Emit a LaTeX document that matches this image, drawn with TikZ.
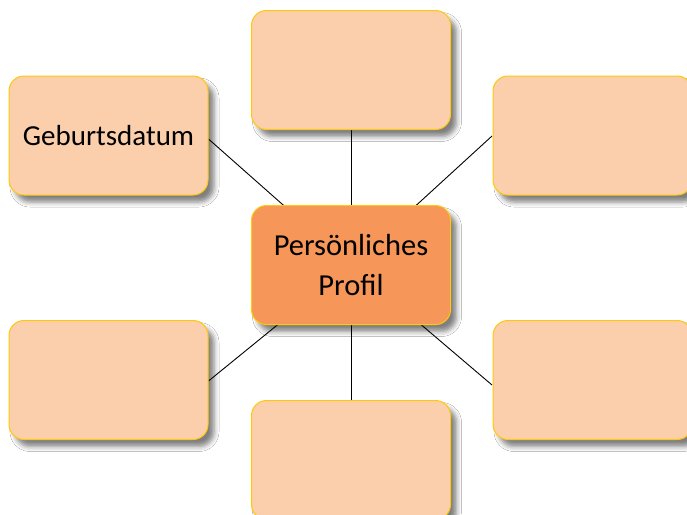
\documentclass[tikz,border=0pt]{standalone}
\usepackage{fontspec}
\setmainfont{Carlito}
\usetikzlibrary{shadows.blur}
\definecolor{boxfill}{HTML}{FBCEAC}
\definecolor{ctrfill}{HTML}{F69659}
\definecolor{boxline}{HTML}{FFC80A}
\tikzset{
  card/.style={draw=boxline, line width=1pt, fill=boxfill, rounded corners=15pt,
    minimum width=199pt, minimum height=119pt, inner sep=0pt, align=center,
    font=\fontsize{29}{40}\selectfont, text=black,
    blur shadow={shadow xshift=6pt, shadow yshift=-7pt, shadow blur radius=5pt, shadow opacity=50}},
  centercard/.style={card, fill=ctrfill, font=\fontsize{30.5}{40}\selectfont},
  link/.style={draw=black, line width=0.9pt}
}
\begin{document}
\begin{tikzpicture}[x=1pt,y=-1pt]
\useasboundingbox (0,0) rectangle (687,514);
\clip (0,0) rectangle (687,514);
\fill[white] (0,0) rectangle (687,514);
\coordinate (c) at (351,265);
\coordinate (pTop) at (351,130);
\coordinate (pTL) at (208.5,139);
\coordinate (pTR) at (492,136);
\coordinate (pBL) at (208.5,381);
\coordinate (pBR) at (492,385);
\coordinate (pBot) at (351,400);
\draw[link] (c) -- (pTop);
\draw[link] (c) -- (pTL);
\draw[link] (c) -- (pTR);
\draw[link] (c) -- (pBL);
\draw[link] (c) -- (pBR);
\draw[link] (c) -- (pBot);
\node[card] (top) at (351,70) {};
\node[card] (tl) at (108.5,135.5) {Geburtsdatum};
\node[card] (tr) at (592.5,135.5) {};
\node[card] (bl) at (108.5,380) {};
\node[card] (br) at (592.5,380) {};
\node[card] (bot) at (351,460) {};
\node[centercard] (ctr) at (351,265) {Persönliches\\Profil};
\end{tikzpicture}
\end{document}
